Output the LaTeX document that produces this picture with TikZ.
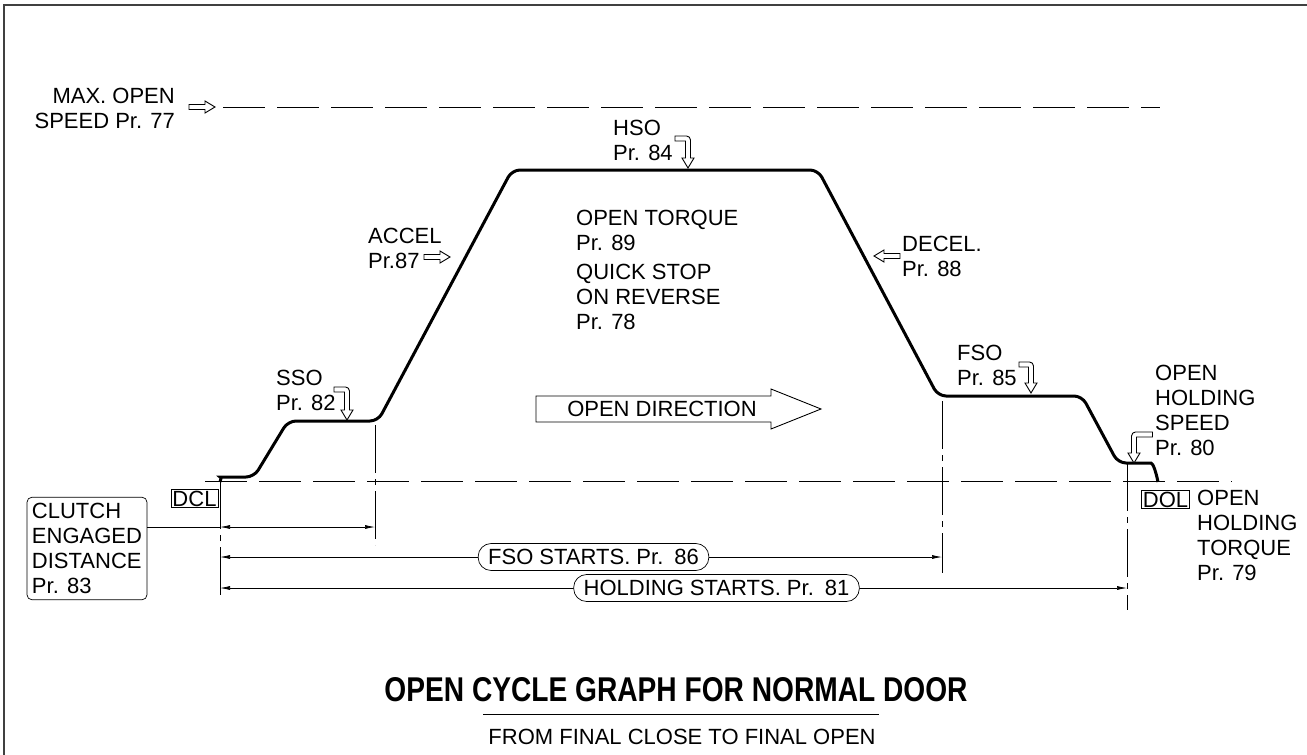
\documentclass[tikz,border=0pt]{standalone}
\usepackage{fontspec}
\usepackage{graphicx}
\setmainfont{Liberation Sans}
\usetikzlibrary{arrows.meta}
\newcommand\harrow[3]{\draw[hollow] (#1,#2) -- ++({-10*#3},-6) -- ++(0,3.5) -- ++({-16*#3},0) -- ++(0,5) -- ++({16*#3},0) -- ++(0,3.5) -- cycle;}
\newcommand\hook[5]{\draw[hollow] (#1,#2) -- ++({-6*#5},-10) -- ++({3.5*#5},0) -- ++(0,-#3) -- ++({-#4*#5},0) -- ++(0,-5) -- ++({(#4+1)*#5},0) arc[start angle=-90,end angle={-90+90*#5},radius=4] -- ++(0,#3+1) -- ++({3.5*#5},0) -- cycle;}
\begin{document}
\begin{tikzpicture}[x=1pt,y=-1pt,font=\fontsize{22}{25}\selectfont,
 txt/.style={inner sep=0pt,align=left,anchor=west},
 hollow/.style={draw,fill=white,line width=0.9pt},
 cline/.style={line width=0.8pt,dash pattern=on 48pt off 6pt on 6pt off 6pt},
 dline/.style={line width=0.8pt,dash pattern=on 42pt off 12pt},
 dim/.style={line width=0.7pt,{Latex[length=10pt,width=4pt]}-{Latex[length=10pt,width=4pt]}},
 pill/.style={draw,fill=white,rounded corners=13pt,minimum height=27pt,inner xsep=10pt,inner ysep=0pt,line width=0.7pt},
 tag/.style={draw,inner sep=1.5pt,line width=0.7pt}]
\useasboundingbox (0,0) rectangle (1307,755);
\draw[line width=1.5pt,black!75] (4,755) -- (4,5) -- (1307,5);
\coordinate (dcl) at (220,481);
\coordinate (sso) at (375,421);
\coordinate (fso) at (942,396);
\coordinate (hold) at (1127,463);
\draw[dline] (205,481) -- (1232,481);
\draw[dline] (223,107) -- (1160,107);
\draw[line width=3pt,rounded corners=8pt] (220,482) .. controls (221,478) and (222,477) .. (228,477) -- (254,477) -- (288,421) -- (378,421) -- (512,170) -- (818,170) -- (938,396) -- (1082,396) -- (1118,463) -- (1143,463) .. controls (1153,463) and (1156,472) .. (1158,482);
\draw[cline] (dcl) -- (220,600);
\draw[cline] (sso) ++(0,4) -- (375,545);
\draw[cline] (fso) ++(0,5) -- (942,573);
\draw[cline] (hold) -- (1127,610);
\node[txt,anchor=east,align=right] (maxopen) at (175,108) {MAX. OPEN\\SPEED Pr. 77};
\harrow{215}{107}{1}
\node[txt] (accel) at (368,248.5) {ACCEL\\Pr.87};
\harrow{450}{257}{1}
\node[txt] (hso) at (613,140.5) {HSO\\Pr. 84};
\hook{688}{168}{17}{10.5}{1}
\node[txt] (torque) at (576,230.5) {OPEN TORQUE\\Pr. 89};
\node[txt] (quick) at (576,297) {QUICK STOP\\ON REVERSE\\Pr. 78};
\node[txt] (decel) at (902,256.5) {DECEL.\\Pr. 88};
\harrow{874}{256}{-1}
\node[txt] (ssotxt) at (276,390.5) {SSO\\Pr. 82};
\hook{347}{420}{18}{10.5}{1}
\node[txt] (fsotxt) at (957,365.5) {FSO\\Pr. 85};
\hook{1031}{393}{16}{9.5}{1}
\node[txt] (hspeed) at (1155,410) {OPEN\\HOLDING\\SPEED\\Pr. 80};
\hook{1134}{463}{16}{16}{-1}
\node[txt] (htorque) at (1197,535.5) {OPEN\\HOLDING\\TORQUE\\Pr. 79};
\draw[line width=0.9pt] (536,396) -- (771,396) -- (771,389) -- (821,409) -- (771,429) -- (771,422) -- (536,422) -- cycle;
\node[inner sep=0pt] (opendir) at (662,409) {OPEN DIRECTION};
\node[tag] (dcltag) at (194.5,498.5) {DCL};
\node[tag] (doltag) at (1165.5,499.5) {DOL};
\node[draw,rounded corners=5pt,inner xsep=5pt,inner ysep=6pt,align=left,line width=0.7pt] (clutch) at (87,548.5) {CLUTCH\\ENGAGED\\DISTANCE\\Pr. 83};
\coordinate (c1) at (220,527);
\coordinate (c2) at (220,557);
\coordinate (c3) at (220,588);
\draw[line width=0.7pt] (clutch.east |- c1) -- (c1);
\draw[dim] (c1) -- (sso |- c1);
\draw[dim] (c2) -- (fso |- c2);
\draw[dim] (c3) -- (hold |- c3);
\node[pill] (fsopill) at (593.5,557) {FSO STARTS. Pr.\hspace{0.5em}86};
\node[pill] (holdpill) at (716.5,588) {HOLDING STARTS. Pr.\hspace{0.5em}81};
\node[inner sep=0pt] (title) at (676,690) {\resizebox{583pt}{24pt}{\bfseries OPEN CYCLE GRAPH FOR NORMAL DOOR}};
\draw[line width=0.8pt] (483,714) -- (879,714);
\node[inner sep=0pt] (subtitle) at (682,737) {FROM FINAL CLOSE TO FINAL OPEN};
\end{tikzpicture}
\end{document}
